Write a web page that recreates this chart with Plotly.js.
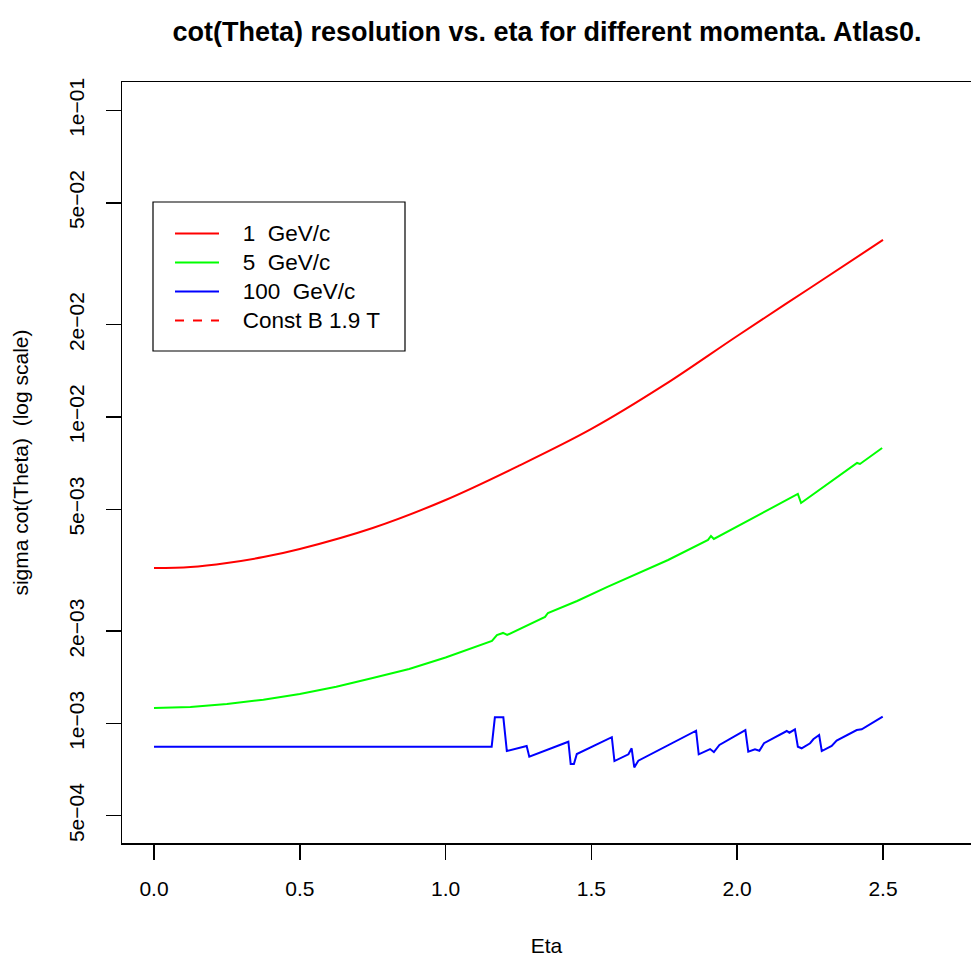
<!DOCTYPE html>
<html>
<head>
<meta charset="utf-8">
<script src="https://cdn.plot.ly/plotly-3.0.1.min.js"></script>
<style>html,body{margin:0;padding:0;background:#fff;overflow:hidden;}#chart{width:971px;height:962px;}</style>
</head>
<body>
<div id="chart"></div>
<script>
// ---- data ----
var etaRed = [0.0, 0.125, 0.25, 0.375, 0.5, 0.75, 1.0, 1.25, 1.5, 1.75, 2.0, 2.25, 2.5];
var sigRed = [3.215e-3, 3.24e-3, 3.339e-3, 3.49e-3, 3.709e-3, 4.343e-3, 5.360e-3, 6.921e-3, 9.14e-3, 1.272e-2, 1.838e-2, 2.636e-2, 3.781e-2];

var etaGreen = [0.0, 0.125, 0.25, 0.375, 0.5, 0.625, 0.75, 0.875, 1.0, 1.08, 1.159, 1.176, 1.197, 1.211, 1.341, 1.351, 1.451, 1.555, 1.660, 1.763, 1.900, 1.910, 1.920, 2.061, 2.208, 2.219, 2.411, 2.421, 2.497];
var sigGreen = [1.123e-3, 1.132e-3, 1.158e-3, 1.196e-3, 1.248e-3, 1.318e-3, 1.407e-3, 1.505e-3, 1.641e-3, 1.745e-3, 1.858e-3, 1.944e-3, 1.974e-3, 1.944e-3, 2.226e-3, 2.294e-3, 2.510e-3, 2.79e-3, 3.097e-3, 3.415e-3, 3.970e-3, 4.091e-3, 3.999e-3, 4.716e-3, 5.609e-3, 5.242e-3, 7.08e-3, 7.027e-3, 7.925e-3];

var etaBlue = [0.0, 1.158, 1.169, 1.198, 1.210, 1.278, 1.287, 1.421, 1.429, 1.440, 1.450, 1.570, 1.579, 1.627, 1.638, 1.647, 1.661, 1.859, 1.868, 1.907, 1.920, 1.939, 2.028, 2.038, 2.061, 2.076, 2.092, 2.170, 2.179, 2.198, 2.208, 2.221, 2.250, 2.261, 2.281, 2.290, 2.324, 2.341, 2.410, 2.427, 2.499];
var sigBlue = [8.40e-4, 8.40e-4, 1.0475e-3, 1.0475e-3, 8.13e-4, 8.445e-4, 7.79e-4, 8.72e-4, 7.37e-4, 7.37e-4, 7.95e-4, 9.02e-4, 7.54e-4, 7.93e-4, 8.30e-4, 7.19e-4, 7.56e-4, 9.47e-4, 7.93e-4, 8.25e-4, 8.07e-4, 8.51e-4, 9.52e-4, 8.09e-4, 8.23e-4, 8.15e-4, 8.62e-4, 9.45e-4, 9.33e-4, 9.57e-4, 8.40e-4, 8.30e-4, 8.62e-4, 8.88e-4, 9.17e-4, 8.13e-4, 8.45e-4, 8.79e-4, 9.52e-4, 9.57e-4, 1.052e-3];

var seriesNames = ["1\u00a0 GeV/c", "5\u00a0 GeV/c", "100\u00a0 GeV/c", "Const B 1.9 T"];

var xTickVals = [0.0, 0.5, 1.0, 1.5, 2.0, 2.5];
var xTickText = ["0.0", "0.5", "1.0", "1.5", "2.0", "2.5"];
var yTickVals = [5e-4, 1e-3, 2e-3, 5e-3, 1e-2, 2e-2, 5e-2, 1e-1];
var yTickText = ["5e\u221204", "1e\u221203", "2e\u221203", "5e\u221203", "1e\u221202", "2e\u221202", "5e\u221202", "1e\u221201"];

var FONT = "Liberation Sans, Arial, Helvetica, sans-serif";
var FS = 21;
function legName(s){ return '<span style="font-size:22.5px">\u00a0\u00a0\u00a0' + s + '</span>'; }

var traces = [
  {x: etaRed, y: sigRed, name: legName(seriesNames[0]), mode: "lines", line: {color: "#ff0000", width: 2, shape: "spline", smoothing: 1}},
  {x: etaGreen, y: sigGreen, name: legName(seriesNames[1]), mode: "lines", line: {color: "#00ff00", width: 2}},
  {x: etaBlue, y: sigBlue, name: legName(seriesNames[2]), mode: "lines", line: {color: "#0000ff", width: 2}},
  {x: [null], y: [null], name: legName(seriesNames[3]), mode: "lines", line: {color: "#ff0000", width: 2, dash: "dash"}}
];

var W = 971, H = 962;
var L = 122, T = 82, B = 119, R = 0;
var pw = W - L - R, ph = H - T - B;
function px2x(p){ return (p - L) / pw; }
function px2y(p){ return (H - B - p) / ph; }

var layout = {
  width: W, height: H,
  margin: {l: L, r: R, t: T, b: B, pad: 0},
  paper_bgcolor: "#ffffff", plot_bgcolor: "#ffffff",
  font: {family: FONT, size: FS, color: "#000000"},
  title: {text: "<b>cot(Theta) resolution vs. eta for different momenta. Atlas0.</b>",
          font: {family: FONT, size: 27, color: "#000"},
          xref: "container", yref: "container", x: 547 / W, xanchor: "center", y: 1 - 32 / H, yanchor: "middle"},
  showlegend: true,
  legend: {x: px2x(170), y: px2y(214), xanchor: "left", yanchor: "top",
           bgcolor: "rgba(0,0,0,0)", borderwidth: 0, font: {family: FONT, size: 20}, itemwidth: 44, tracegroupgap: 0},
  xaxis: {type: "linear", range: [-32 / 291.6, (W - 154) / 291.6],
          showgrid: false, zeroline: false, showline: true, mirror: true, linecolor: "#000", linewidth: 1.5,
          ticks: "outside", ticklen: 15, tickwidth: 1.5, tickcolor: "#000",
          tickmode: "array", tickvals: xTickVals, ticktext: xTickText, ticklabelstandoff: 11,
          tickfont: {family: FONT, size: FS},
          title: {text: "Eta", font: {family: FONT, size: FS}, standoff: 39}},
  yaxis: {type: "log", range: [-3.390, -0.907],
          showgrid: false, zeroline: false, showline: true, mirror: false, linecolor: "#000", linewidth: 1.5,
          ticks: "outside", ticklen: 15, tickwidth: 1.5, tickcolor: "#000",
          tickmode: "array", tickvals: yTickVals, ticktext: yTickText, tickangle: -90, ticklabelstandoff: 13,
          tickfont: {family: FONT, size: FS},
          title: {text: "sigma cot(Theta)  (log scale)", font: {family: FONT, size: FS}, standoff: 30}},
  shapes: [
    {type: "rect", xref: "paper", yref: "paper", x0: px2x(153), x1: px2x(405), y0: px2y(351), y1: px2y(202),
     line: {color: "#000", width: 1.2}, fillcolor: "rgba(0,0,0,0)"}
  ]
};

Plotly.newPlot("chart", traces, layout, {displayModeBar: false, staticPlot: true});
</script>
</body>
</html>
